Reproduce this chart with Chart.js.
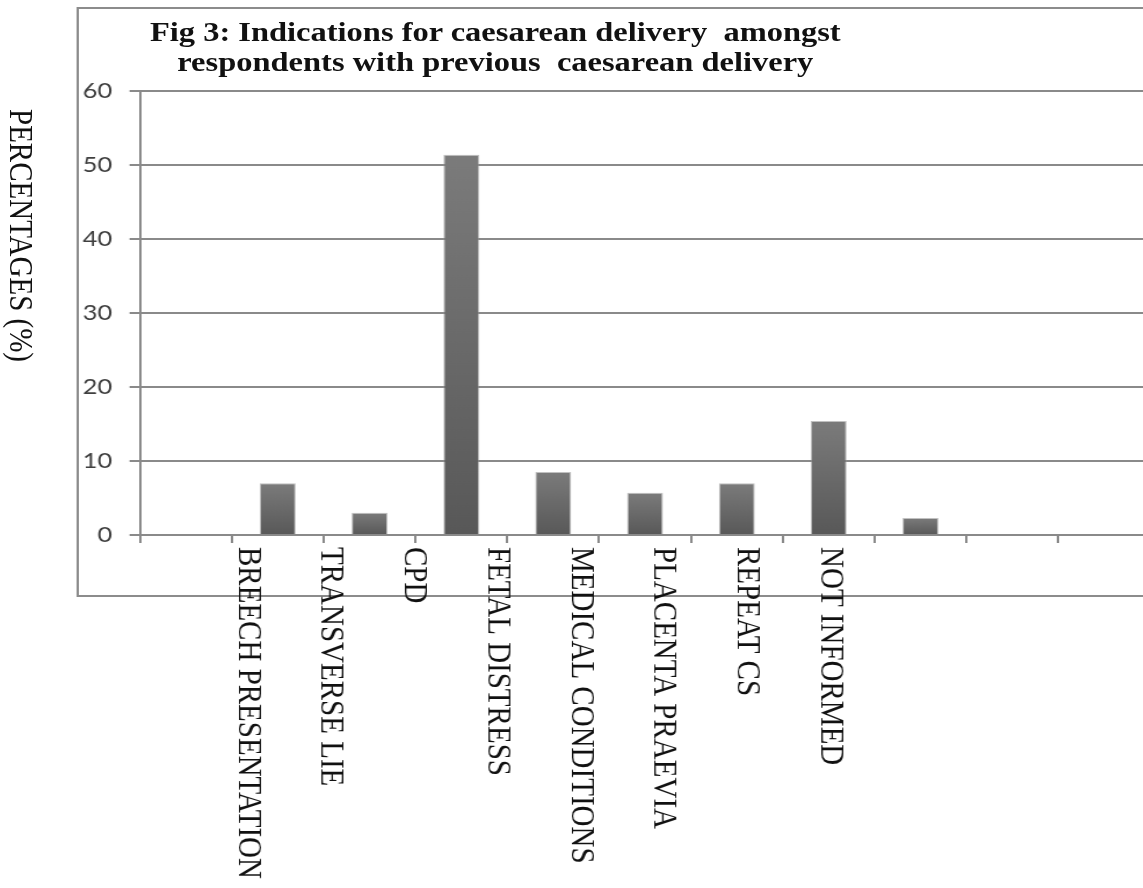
<!DOCTYPE html>
<html>
<head>
<meta charset="utf-8">
<script src="https://cdn.jsdelivr.net/npm/chart.js@4.4.1/dist/chart.umd.min.js"></script>
<style>
  html, body { margin: 0; padding: 0; background: #fff; overflow: hidden; width: 1143px; height: 888px; }
  /* the source picture is stretched sideways, so the whole stage is too */
  #stage { position: absolute; left: 0; top: 0; width: 1040px; height: 888px; transform: scaleX(1.16); transform-origin: 0 0; }
  #frame { position: absolute; left: 66px; top: 7px; width: 1000px; height: 586px; border: 2px solid #8c8c8c; }
  #chartBox { position: absolute; left: 68px; top: 9px; width: 960px; height: 879px; }
  #title { position: absolute; left: 77px; top: 17px; width: 700px; text-align: center; white-space: pre;
           font: bold 28px 'Liberation Serif', 'Times New Roman', serif; line-height: 30px; color: #111; }
  #ytitle { position: absolute; left: 5px; top: 109px; writing-mode: vertical-rl;
            font: 29px 'Liberation Serif', 'Times New Roman', serif; line-height: 28px; color: #111; }
</style>
</head>
<body>
<div id="stage">
  <div id="frame"></div>
  <div id="title">Fig 3: Indications for caesarean delivery  amongst
respondents with previous  caesarean delivery</div>
  <div id="ytitle">PERCENTAGES (%)</div>
  <div id="chartBox"><canvas id="chart" width="960" height="879"></canvas></div>
</div>
<script>
// category names as printed under the axis
const categories = [
  'BREECH PRESENTATION', 'TRANSVERSE LIE', 'CPD', 'FETAL DISTRESS',
  'MEDICAL CONDITIONS', 'PLACENTA PRAEVIA', 'REPEAT CS', 'NOT INFORMED'
];
// the axis has 11 slots, first one empty, last two empty
const slotLabels = ['', ...categories, '', ''];
const percentages = [null, 7, 3, 51.4, 8.5, 5.7, 7, 15.4, 2.3, null, null];
const yTicks = [0, 10, 20, 30, 40, 50, 60];

const GRID = '#8a8a8a';
// labels in the source sit a bit left of the slot boundaries
const LABEL_START = 0.67;
const LABEL_STEP = 0.906;

const rotatedLabels = {
  id: 'rotatedLabels',
  afterDraw(chart) {
    const { ctx, scales: { x, y } } = chart;
    ctx.save();
    ctx.font = "29px 'Liberation Serif', 'Times New Roman', serif";
    ctx.fillStyle = '#111';
    ctx.textAlign = 'left';
    ctx.textBaseline = 'middle';
    categories.forEach((name, k) => {
      const px = x.getPixelForValue(LABEL_START + LABEL_STEP * k);
      ctx.save();
      ctx.translate(px, y.getPixelForValue(0) + 12);
      ctx.rotate(Math.PI / 2);
      ctx.fillText(name, 0, 0);
      ctx.restore();
    });
    ctx.restore();
  }
};

function barFill(context) {
  const chart = context.chart;
  const v = context.raw;
  if (!chart.chartArea || v == null) return '#666';
  const y = chart.scales.y;
  const g = chart.ctx.createLinearGradient(0, y.getPixelForValue(v), 0, y.getPixelForValue(0));
  g.addColorStop(0, '#7b7b7b');
  g.addColorStop(1, '#585858');
  return g;
}

new Chart(document.getElementById('chart'), {
  type: 'bar',
  data: {
    labels: slotLabels,
    datasets: [{
      data: percentages,
      backgroundColor: barFill,
      borderColor: 'rgba(150,150,150,0.6)',
      borderWidth: 1,
      categoryPercentage: 1,
      barPercentage: 0.39
    }]
  },
  options: {
    responsive: false,
    animation: false,
    layout: { padding: { top: 82, right: 36.6, left: 0, bottom: 0 } },
    plugins: { legend: { display: false }, title: { display: false }, tooltip: { enabled: false } },
    scales: {
      x: {
        offset: true,
        grid: { offset: true, drawOnChartArea: false, drawTicks: true, tickLength: 8, color: GRID, lineWidth: 2 },
        border: { display: true, color: GRID, width: 2 },
        ticks: { display: false },
        afterFit(scale) { scale.height = 353; }
      },
      y: {
        min: 0,
        max: 60,
        afterBuildTicks(scale) { scale.ticks = yTicks.map(v => ({ value: v })); },
        grid: { color: GRID, lineWidth: 2, drawTicks: true, tickLength: 9 },
        border: { display: true, color: GRID, width: 2 },
        ticks: { padding: 15, color: '#404040', font: { family: 'Lato', size: 22 } },
        afterFit(scale) { scale.width = 52.7; }
      }
    }
  },
  plugins: [rotatedLabels]
});
</script>
</body>
</html>
